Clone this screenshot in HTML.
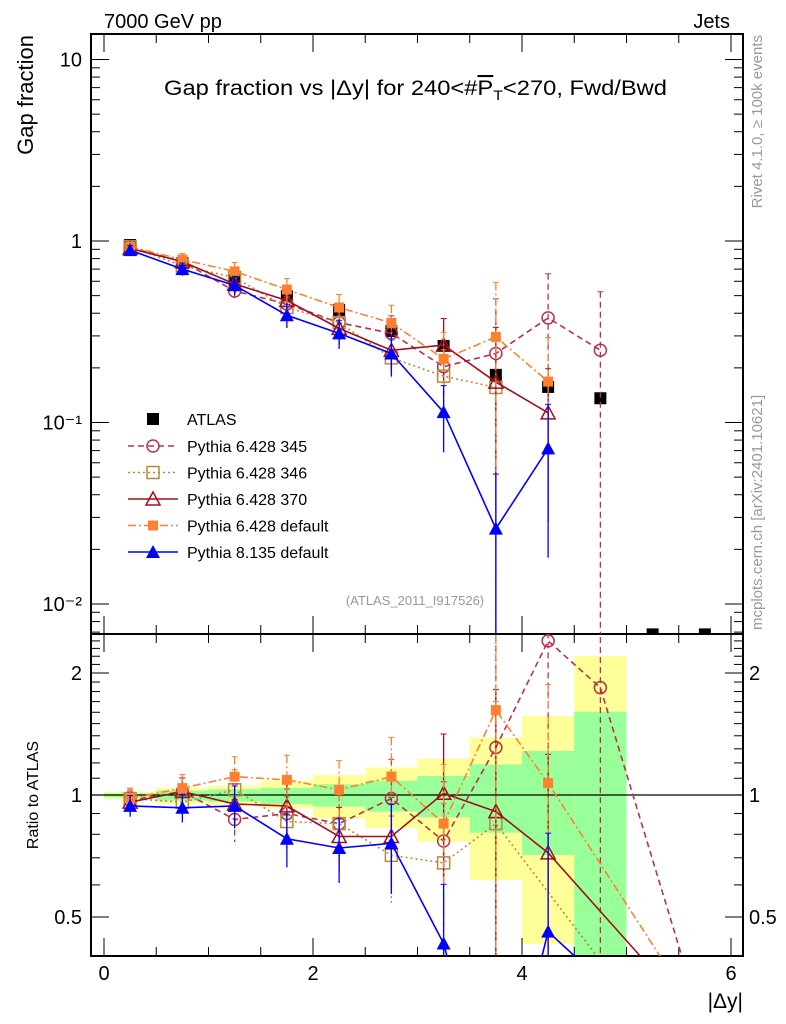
<!DOCTYPE html>
<html><head><meta charset="utf-8"><style>
html,body{margin:0;background:#fff;overflow:hidden;width:786px;height:1024px}
svg{display:block;font-family:"Liberation Sans",sans-serif}
</style></head><body>
<svg id="chart" width="786" height="1024" viewBox="0 0 786 1024" overflow="hidden">
<defs>
<clipPath id="cm"><rect x="91" y="34" width="652" height="600"/></clipPath>
<clipPath id="cr"><rect x="91" y="634" width="652" height="322"/></clipPath>
</defs>
<g id="bands" clip-path="url(#cr)"></g>
<g id="frames"></g>
<g id="mainMarks" clip-path="url(#cm)"></g>
<g id="ratioMarks" clip-path="url(#cr)"></g>
<text x="104" y="28" font-size="20">7000 GeV pp</text>
<text x="730" y="28" font-size="20" text-anchor="end">Jets</text>
<text x="164" y="95" font-size="21" textLength="503" lengthAdjust="spacingAndGlyphs">Gap fraction vs |Δy| for 240&lt;#<tspan text-decoration="overline">P</tspan><tspan font-size="14" dy="5">T</tspan><tspan dy="-5">&lt;270, Fwd/Bwd</tspan></text>
<text x="415" y="605" font-size="13" fill="#999" text-anchor="middle">(ATLAS_2011_I917526)</text>
<text transform="translate(33,35) rotate(-90)" font-size="22" text-anchor="end">Gap fraction</text>
<text transform="translate(38,795) rotate(-90)" font-size="16" text-anchor="middle">Ratio to ATLAS</text>
<text x="743" y="1008" font-size="21" text-anchor="end">|Δy|</text>
<text transform="translate(762,35) rotate(-90)" font-size="15" fill="#999" text-anchor="end">Rivet 4.1.0, ≥ 100k events</text>
<text transform="translate(762,630) rotate(-90)" font-size="15" fill="#999" text-anchor="start">mcplots.cern.ch [arXiv:2401.10621]</text>
<g id="legend"></g>
</svg>
<script>
const binCenters=[0.25,0.75,1.25,1.75,2.25,2.75,3.25,3.75,4.25,4.75,5.25,5.75];
const atlasVals=[0.95,0.757,0.61,0.497,0.417,0.319,0.264,0.183,0.157,0.136,0.0068,0.0068];
const p345Main=[0.92,0.77,0.53,0.45,0.355,0.31,0.203,0.24,0.377,0.25,null,null];
const p346Main=[0.93,0.73,0.63,0.43,0.355,0.227,0.18,0.156,null,null,null,null];
const p370Main=[0.91,0.77,0.58,0.47,0.33,0.25,0.267,0.167,0.113,null,null,null];
const p6defMain=[0.93,0.79,0.68,0.54,0.43,0.354,0.224,0.296,0.168,null,null,null];
const p8defMain=[0.89,0.70,0.57,0.39,0.31,0.24,0.114,0.026,0.072,null,null,null];
const p345Ratio=[0.97,1.02,0.87,0.90,0.85,0.98,0.77,1.31,2.40,1.84,null,0.26];
const p346Ratio=[0.98,0.96,1.03,0.86,0.85,0.71,0.68,0.85,null,0.39,null,null];
const p370Ratio=[0.96,1.02,0.95,0.94,0.79,0.79,1.01,0.91,0.72,null,0.37,null];
const p6defRatio=[0.98,1.04,1.11,1.09,1.03,1.11,0.85,1.62,1.07,null,null,0.27];
const p8defRatio=[0.94,0.93,0.94,0.78,0.74,0.76,0.43,0.14,0.46,0.35,null,null];
const relErr=[0.06,0.08,0.12,0.15,0.18,0.25,0.4,1.0,0.75,1.1,1,1];
const bandYellowHi=[1.019,1.042,1.054,1.085,1.12,1.17,1.23,1.385,1.566,2.206];
const bandYellowLo=[0.976,0.954,0.945,0.927,0.876,0.828,0.767,0.617,0.429,0.3];
const bandGreenHi=[1.009,1.025,1.033,1.042,1.063,1.085,1.114,1.19,1.284,1.605];
const bandGreenLo=[0.987,0.968,0.963,0.950,0.936,0.910,0.881,0.807,0.711,0.3];
const xTickLabels=["0","2","4","6"];
const yTickLabels=["10⁻²","10⁻¹","1","10"];
const ratioTickLabels=["0.5","1","2"];

const NS="http://www.w3.org/2000/svg";
const L=91,R=743,MT=34,MB=634,RB=956;
const X=v=>104+v*104.5;
const Y=v=>241-181.5*Math.log10(v);
const YR=v=>795-122*Math.log2(v);
function mk(tag,attrs,parent){const e=document.createElementNS(NS,tag);for(const k in attrs)e.setAttribute(k,attrs[k]);parent.appendChild(e);return e;}
const bands=document.getElementById('bands'),frames=document.getElementById('frames');
const mainG=document.getElementById('mainMarks'),ratioG=document.getElementById('ratioMarks');

for(let i=0;i<bandYellowHi.length;i++){
  const x0=X(i*0.5),x1=X(i*0.5+0.5);
  let r=mk('rect',{x:x0,y:YR(bandYellowHi[i]),width:x1-x0,height:Math.min(RB,YR(bandYellowLo[i]))-YR(bandYellowHi[i]),fill:'#ffff99'},bands);
  
  
  r=mk('rect',{x:x0,y:YR(bandGreenHi[i]),width:x1-x0,height:Math.min(RB,YR(bandGreenLo[i]))-YR(bandGreenHi[i]),fill:'#99ff99'},bands);
  
  
}

mk('rect',{x:L,y:MT,width:R-L,height:MB-MT,fill:'none',stroke:'#000','stroke-width':2},frames);
mk('rect',{x:L,y:MB,width:R-L,height:RB-MB,fill:'none',stroke:'#000','stroke-width':2},frames);
mk('line',{x1:L,x2:R,y1:YR(1),y2:YR(1),stroke:'#000','stroke-width':1.3},frames);
for(let v=0;v<=6.01;v+=0.5){
  const maj=Math.abs(v-Math.round(v/2)*2)<1e-6, len=maj?18:9, x=X(v);
  if(x>R)continue;
  mk('line',{x1:x,x2:x,y1:MT,y2:MT+len,stroke:'#000'},frames);
  mk('line',{x1:x,x2:x,y1:MB,y2:MB-len,stroke:'#000'},frames);
  mk('line',{x1:x,x2:x,y1:MB,y2:MB+len,stroke:'#000'},frames);
  mk('line',{x1:x,x2:x,y1:RB,y2:RB-len,stroke:'#000'},frames);
}
xTickLabels.forEach((t,i)=>{const e=mk('text',{x:X(i*2),y:980,'font-size':20,'text-anchor':'middle'},frames);e.textContent=t;
  
  });
for(let d=-3;d<=1;d++){for(let m=1;m<=9;m++){const v=m*Math.pow(10,d),y=Y(v);if(y<MT||y>MB)continue;
  const len=m===1?18:9;
  mk('line',{x1:L,x2:L+len,y1:y,y2:y,stroke:'#000'},frames);
  mk('line',{x1:R,x2:R-len,y1:y,y2:y,stroke:'#000'},frames);}}
yTickLabels.forEach((t,i)=>{const e=mk('text',{x:82,y:Y(Math.pow(10,i-2))+7,'font-size':20,'text-anchor':'end'},frames);e.textContent=t;
  
  });
[0.4,0.5,0.6,0.7,0.8,0.9,1,1.1,1.2,1.3,1.4,1.5,1.6,1.7,1.8,1.9,2,2.1,2.2,2.3,2.4].forEach(v=>{
  const y=YR(v);if(y<MB||y>RB)return;const maj=(v===0.5||v===1||v===2),len=maj?18:9;
  mk('line',{x1:L,x2:L+len,y1:y,y2:y,stroke:'#000'},frames);
  mk('line',{x1:R,x2:R-len,y1:y,y2:y,stroke:'#000'},frames);});
ratioTickLabels.forEach(t=>{const v=parseFloat(t);
  let e=mk('text',{x:82,y:YR(v)+7,'font-size':20,'text-anchor':'end'},frames);e.textContent=t;
  
  
  e=mk('text',{x:749,y:YR(v)+7,'font-size':20},frames);e.textContent=t;
  
  });

function marker(g,type,x,y,color){
  const s=6;let e;
  if(type==='sq') e=mk('rect',{x:x-s,y:y-s,width:2*s,height:2*s,fill:'#000'},g);
  else if(type==='circ') e=mk('circle',{cx:x,cy:y,r:s,fill:'none',stroke:color,'stroke-width':1.5},g);
  else if(type==='osq') e=mk('rect',{x:x-s,y:y-s,width:2*s,height:2*s,fill:'none',stroke:color,'stroke-width':1.5},g);
  else if(type==='otri') e=mk('path',{d:`M${x},${y-7}L${x+7},${y+6}L${x-7},${y+6}Z`,fill:'none',stroke:color,'stroke-width':1.5},g);
  else if(type==='fsq') e=mk('rect',{x:x-5,y:y-5,width:10,height:10,fill:color},g);
  else e=mk('path',{d:`M${x},${y-7}L${x+7},${y+6}L${x-7},${y+6}Z`,fill:color},g);
  return e;
}
const series=[
 {name:'Pythia 6.428 345',main:p345Main,ratio:p345Ratio,color:'#b5334f',dash:'6,4',m:'circ'},
 {name:'Pythia 6.428 346',main:p346Main,ratio:p346Ratio,color:'#b58a3c',dash:'2,3',m:'osq'},
 {name:'Pythia 6.428 370',main:p370Main,ratio:p370Ratio,color:'#a0101e',dash:'',m:'otri'},
 {name:'Pythia 6.428 default',main:p6defMain,ratio:p6defRatio,color:'#ff8030',dash:'8,3,2,3',m:'fsq'},
 {name:'Pythia 8.135 default',main:p8defMain,ratio:p8defRatio,color:'#0000ff',dash:'',m:'tri'}
];
atlasVals.forEach((v,i)=>{const e=marker(mainG,'sq',X(binCenters[i]),Y(v),'#000');
  
  });
series.forEach((s,si)=>{
  [['main',mainG,Y,MB],['ratio',ratioG,YR,RB]].forEach(([key,g,fy,bot])=>{
    const arr=s[key];let pts=[];
    arr.forEach((v,i)=>{if(v!==null)pts.push([X(binCenters[i]),fy(v)]);});
    const p=mk('polyline',{points:pts.map(q=>q.join(',')).join(' '),fill:'none',stroke:s.color,'stroke-width':1.6,'stroke-dasharray':s.dash},g);
    
    
    arr.forEach((v,i)=>{if(v===null)return;
      if(key==='main'||s.main[i]!==null){
        const e=relErr[i]*v,hi=fy(v+e),lo=v-e>0?Math.min(bot,fy(v-e)):bot,x=X(binCenters[i]);
        const b=mk('line',{x1:x,x2:x,y1:hi,y2:lo,stroke:s.color,'stroke-width':1.3,'stroke-dasharray':s.dash},g);
        
        
        mk('line',{x1:x-3,x2:x+3,y1:hi,y2:hi,stroke:s.color},g);
        const m=marker(g,s.m,x,fy(v),s.color);
        
        
      }});
  });
});
const lg=document.getElementById('legend');
const lsq=marker(lg,'sq',153,419,'#000');


let lt=mk('text',{x:187,y:425,'font-size':16},lg);lt.textContent='ATLAS';


series.forEach((s,i)=>{const y=446+i*26.5;
  mk('line',{x1:128,x2:178,y1:y,y2:y,stroke:s.color,'stroke-width':1.6,'stroke-dasharray':s.dash},lg);
  const m=marker(lg,s.m,153,y,s.color);
  
  
  const t=mk('text',{x:187,y:y+6,'font-size':16},lg);t.textContent=s.name;
  
  });
</script>
</body></html>
